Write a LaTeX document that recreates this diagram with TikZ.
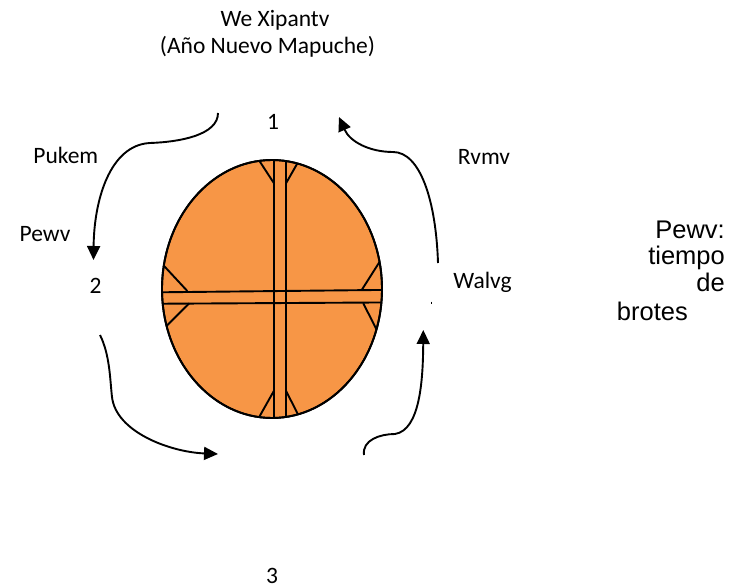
\documentclass[tikz,border=0pt]{standalone}
\usepackage{fontspec}
\setmainfont{Carlito}
\newfontfamily\arialfont{Liberation Sans}
\usetikzlibrary{arrows.meta,shapes.geometric}
\definecolor{discorange}{HTML}{F79646}
\tikzset{
  lbl/.style={inner sep=0pt, anchor=base, font=\fontsize{23.5}{28}\selectfont},
  sidetxt/.style={inner sep=0pt, font=\arialfont\fontsize{25.5}{28}\selectfont},
  bar/.style={line width=1.9pt},
  cyclearrow/.style={line width=1.9pt, -{Triangle[width=13pt,length=14pt]}},
}
\begin{document}
\begin{tikzpicture}[x=1pt,y=-1pt]
\useasboundingbox (0,0) rectangle (747,588);

% disc
\node[ellipse, draw, line width=1.9pt, fill=discorange, minimum width=220pt, minimum height=258pt, inner sep=0pt] (disc) at (272,289) {};
\begin{scope}
  \clip (272,289) ellipse [x radius=110, y radius=129];
  \draw[bar] (274,150) -- (274,430);
  \draw[bar] (286,150) -- (286,430);
  \draw[bar] (150,292.4) -- (395,289.8);
  \draw[bar] (150,303.8) -- (395,302.4);
  % ticks
  \draw[bar] (257.5,158) -- (274,183.3);
  \draw[bar] (286,183.3) -- (301,157);
  \draw[bar] (160,261.6) -- (187.3,291);
  \draw[bar] (189.3,303.3) -- (160,332.5);
  \draw[bar] (379.5,262) -- (361.7,290);
  \draw[bar] (363.3,303.3) -- (378.5,333.5);
  \draw[bar] (274,390.7) -- (257.5,420);
  \draw[bar] (286,390.7) -- (301,420.5);
\end{scope}
\draw[line width=1.9pt] (disc.center) ellipse [x radius=110, y radius=129];

% labels
\node[lbl] (t1) at (275,27) {We Xipantv};
\node[lbl] (t2) at (267.5,54) {(Año Nuevo Mapuche)};
\node[lbl] (n1) at (273,130) {1};
\node[lbl] (pukem) at (65.8,163.3) {Pukem};
\node[lbl] (rvmv) at (484,165) {Rvmv};
\node[lbl] (pewv) at (45,241.7) {Pewv};
\node[lbl] (n2) at (95.5,293.3) {2};
\node[lbl] (walvg) at (482.5,288.3) {Walvg};
\node[lbl] (n3) at (272,583) {3};

\node[sidetxt, anchor=base east] (s1) at (725,238.3) {Pewv:};
\node[sidetxt, anchor=base east] (s2) at (725,265) {tiempo};
\node[sidetxt, anchor=base east] (s3) at (725,291.7) {de};
\node[sidetxt, anchor=base west] (s4) at (616.7,320) {brotes};

% arrows
\coordinate (a1s) at (218,113);
\coordinate (a1m) at (150,143);
\coordinate (a1e) at (93.5,260);
\draw[cyclearrow] (a1s) .. controls (218,135) and (180,142) .. (a1m)
  .. controls (110,145) and (94,200) .. (a1e);

\coordinate (a2s) at (438,263);
\coordinate (a2m) at (393,152);
\coordinate (a2e) at (339,117);
\draw[cyclearrow] (a2s) .. controls (436,200) and (420,152) .. (a2m)
  .. controls (370,152) and (350,142) .. (a2e);

\coordinate (a3s) at (100,335);
\coordinate (a3m) at (112,397);
\coordinate (a3e) at (218,454);
\draw[cyclearrow] (a3s) .. controls (110,355) and (110,380) .. (a3m)
  .. controls (116,432) and (170,452) .. (a3e);

\coordinate (a4s) at (364,455);
\coordinate (a4m) at (395,434);
\coordinate (a4e) at (423.3,330);
\draw[cyclearrow] (a4s) .. controls (362,440) and (380,434) .. (a4m)
  .. controls (420,430) and (423,380) .. (a4e);

\coordinate (dotA) at (431.3,301.5);
\coordinate (dotB) at (431.3,304);
\draw[line width=0.8pt] (dotA) -- (dotB);
\end{tikzpicture}
\end{document}
